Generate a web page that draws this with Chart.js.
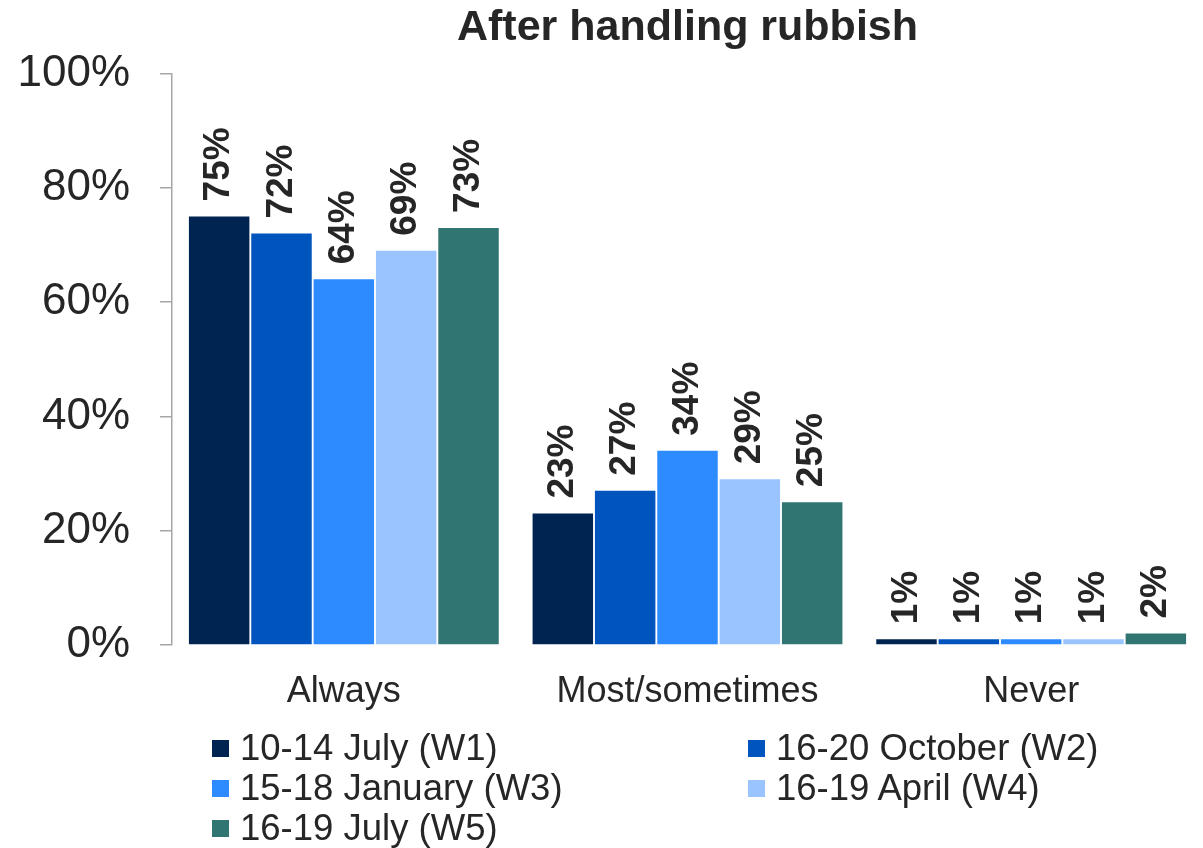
<!DOCTYPE html>
<html>
<head>
<meta charset="utf-8">
<script src="https://cdn.jsdelivr.net/npm/chart.js@4.4.1/dist/chart.umd.min.js"></script>
<style>
    html, body { margin: 0; padding: 0; background: #ffffff; overflow: hidden; }
    #wrap { position: relative; width: 1203px; height: 848px; }
    #chart { display: block; }
    #legend {
        position: absolute; left: 212px; top: 728px; width: 985px;
        display: grid; grid-template-columns: 536px auto;
        font-family: "Liberation Sans", Arial, sans-serif; font-size: 36.5px; line-height: 40px; color: #262626;
    }
    #legend .item { display: flex; align-items: center; white-space: nowrap; }
    #legend .box { width: 17px; height: 17px; margin-right: 11px; flex: none; }
</style>
</head>
<body>
<div id="wrap">
    <canvas id="chart" width="1203" height="848"></canvas>
    <div id="legend"></div>
</div>
<script>
// Data
const categories = ['Always', 'Most/sometimes', 'Never'];
const seriesNames = ['10-14 July (W1)', '16-20 October (W2)', '15-18 January (W3)', '16-19 April (W4)', '16-19 July (W5)'];
const w1 = [75, 23, 1];
const w2 = [72, 27, 1];
const w3 = [64, 34, 1];
const w4 = [69, 29, 1];
const w5 = [73, 25, 2];
const seriesColors = ['#002452', '#0054BD', '#2E8BFF', '#99C4FF', '#317572'];
const yTicks = [0, 20, 40, 60, 80, 100];

const fontFamily = '"Liberation Sans", Arial, sans-serif';
const textColor = '#262626';
const axisColor = '#a6a6a6';

const seriesValues = [w1, w2, w3, w4, w5];

// Label di atas tiap batang, diputar vertikal
const barLabels = {
    id: 'barLabels',
    afterDatasetsDraw(chart) {
        const ctx = chart.ctx;
        ctx.save();
        ctx.fillStyle = textColor;
        ctx.font = 'bold 37px ' + fontFamily;
        ctx.textAlign = 'left';
        ctx.textBaseline = 'middle';
        chart.data.datasets.forEach((ds, i) => {
            chart.getDatasetMeta(i).data.forEach((bar, j) => {
                ctx.save();
                ctx.translate(bar.x, bar.y - 15);
                ctx.rotate(-Math.PI / 2);
                ctx.fillText(ds.data[j] + '%', 0, 0);
                ctx.restore();
            });
        });
        ctx.restore();
    }
};

const chart = new Chart(document.getElementById('chart').getContext('2d'), {
    type: 'bar',
    data: {
        labels: categories,
        datasets: seriesNames.map((name, i) => ({
            label: name,
            data: seriesValues[i],
            backgroundColor: seriesColors[i],
            borderWidth: 0,
            barPercentage: 0.97,
            categoryPercentage: 0.907
        }))
    },
    options: {
        responsive: false,
        animation: false,
        layout: { padding: { left: 0, right: 0, top: 0, bottom: 0 } },
        plugins: {
            legend: { display: false },
            tooltip: { enabled: false },
            title: {
                display: true,
                fullSize: false,
                text: 'After handling rubbish',
                color: textColor,
                font: { family: fontFamily, size: 43, weight: 'bold' },
                padding: { top: 2, bottom: 20 }
            }
        },
        scales: {
            x: {
                grid: { display: false, drawTicks: false },
                border: { display: false },
                ticks: {
                    color: textColor,
                    padding: 25,
                    font: { family: fontFamily, size: 36 }
                },
                afterFit(scale) { scale.height = 203; }
            },
            y: {
                min: 0,
                max: 100,
                afterBuildTicks(scale) { scale.ticks = yTicks.map(v => ({ value: v })); },
                grid: { drawOnChartArea: false, drawTicks: true, tickLength: 12, color: axisColor, lineWidth: 1.5 },
                border: { display: true, color: axisColor, width: 1.5 },
                ticks: {
                    color: textColor,
                    padding: 30,
                    font: { family: fontFamily, size: 44 },
                    callback: v => v + '%'
                },
                afterFit(scale) { scale.width = 172; }
            }
        }
    },
    plugins: [barLabels]
});

// Legend HTML dua kolom
const legendEl = document.getElementById('legend');
seriesNames.forEach((name, i) => {
    const item = document.createElement('div');
    item.className = 'item';
    const box = document.createElement('span');
    box.className = 'box';
    box.style.background = seriesColors[i];
    const txt = document.createElement('span');
    txt.textContent = name;
    item.appendChild(box);
    item.appendChild(txt);
    legendEl.appendChild(item);
});
</script>
</body>
</html>
